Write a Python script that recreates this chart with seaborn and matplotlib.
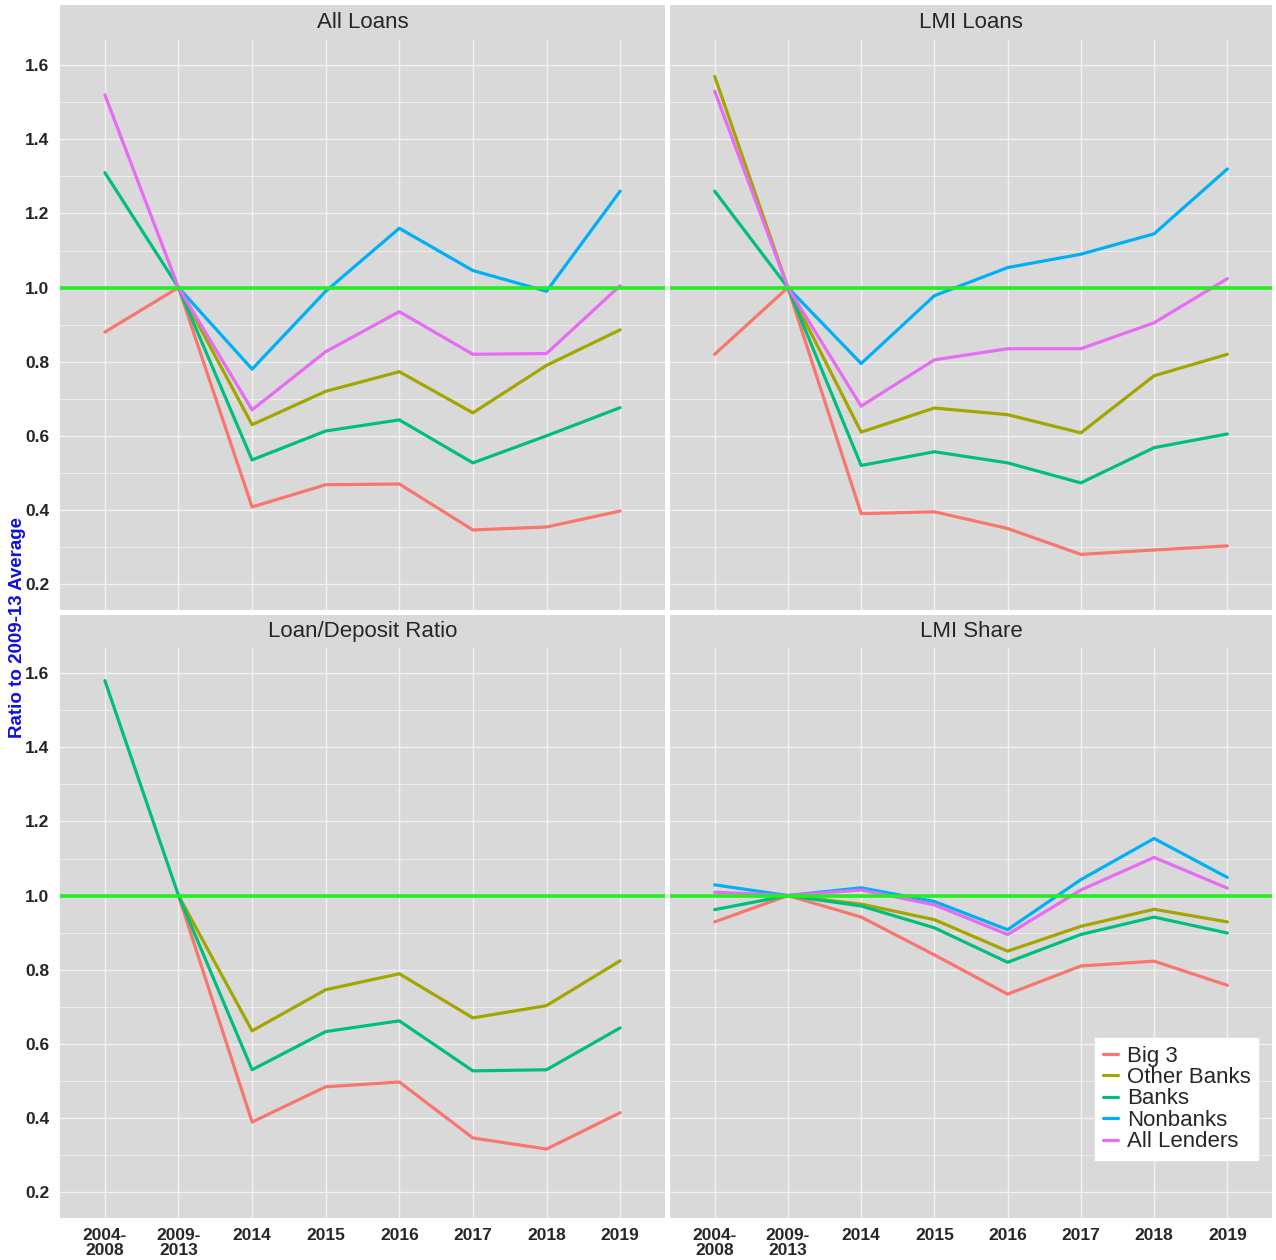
import matplotlib
matplotlib.use("Agg")
import matplotlib.pyplot as plt
from matplotlib.patches import Rectangle
from matplotlib.ticker import MultipleLocator
import seaborn as sns
import pandas as pd
import numpy as np

nan = np.nan

# x categories and series names
periods = ["2004-\n2008", "2009-\n2013", "2014", "2015", "2016", "2017", "2018", "2019"]
lenders = ["Big 3", "Other Banks", "Banks", "Nonbanks", "All Lenders"]
colors = ["#F8766D", "#A3A500", "#00BF7D", "#00B0F6", "#E76BF3"]

# values (ratio to 2009-13 average)
all_loans = {
    "Big 3":       [0.88, 1.0, 0.408, 0.468, 0.470, 0.346, 0.354, 0.397],
    "Other Banks": [nan, 1.0, 0.630, 0.720, 0.773, 0.662, 0.790, 0.886],
    "Banks":       [1.31, 1.0, 0.535, 0.613, 0.643, 0.527, 0.600, 0.676],
    "Nonbanks":    [nan, 1.0, 0.780, 0.990, 1.160, 1.046, 0.990, 1.260],
    "All Lenders": [1.52, 1.0, 0.670, 0.827, 0.935, 0.820, 0.822, 1.005],
}
lmi_loans = {
    "Big 3":       [0.82, 1.0, 0.390, 0.395, 0.350, 0.280, 0.292, 0.303],
    "Other Banks": [1.57, 1.0, 0.610, 0.675, 0.657, 0.608, 0.762, 0.820],
    "Banks":       [1.26, 1.0, 0.520, 0.557, 0.527, 0.473, 0.568, 0.605],
    "Nonbanks":    [nan, 1.0, 0.795, 0.978, 1.054, 1.090, 1.145, 1.320],
    "All Lenders": [1.53, 1.0, 0.680, 0.805, 0.835, 0.835, 0.905, 1.024],
}
loan_deposit = {
    "Big 3":       [nan, 1.0, 0.389, 0.484, 0.497, 0.346, 0.316, 0.414],
    "Other Banks": [nan, 1.0, 0.635, 0.746, 0.789, 0.670, 0.703, 0.824],
    "Banks":       [1.58, 1.0, 0.530, 0.633, 0.662, 0.527, 0.530, 0.643],
}
lmi_share = {
    "Big 3":       [0.929, 1.0, 0.942, 0.840, 0.734, 0.810, 0.823, 0.758],
    "Other Banks": [nan, 1.0, 0.977, 0.935, 0.850, 0.917, 0.963, 0.929],
    "Banks":       [0.962, 1.0, 0.972, 0.913, 0.820, 0.895, 0.942, 0.899],
    "Nonbanks":    [1.029, 1.0, 1.021, 0.984, 0.908, 1.043, 1.154, 1.049],
    "All Lenders": [1.009, 1.0, 1.015, 0.975, 0.895, 1.015, 1.103, 1.020],
}

panels = [
    ("All Loans", all_loans),
    ("LMI Loans", lmi_loans),
    ("Loan/Deposit Ratio", loan_deposit),
    ("LMI Share", lmi_share),
]


def to_long(data):
    rows = []
    for name, vals in data.items():
        for i, v in enumerate(vals):
            rows.append({"pos": i, "value": v, "lender": name})
    df = pd.DataFrame(rows)
    return df.dropna()


sns.set_style("white")
plt.rcParams["font.family"] = ["Liberation Sans", "DejaVu Sans"]

W, H = 1276, 1260
fig = plt.figure(figsize=(W / 100, H / 100), dpi=100)

# panel boxes in pixels: (left, right) columns, (plot top, plot bottom, strip top) rows
cols = [(60, 665), (670, 1272)]
rows_px = [(40, 610, 5), (648, 1218, 615)]
bg = "#D9D9D9"

for k, (title, data) in enumerate(panels):
    r, c = divmod(k, 2)
    x0, x1 = cols[c]
    top, bottom, strip_top = rows_px[r]
    ax = fig.add_axes([x0 / W, 1 - bottom / H, (x1 - x0) / W, (bottom - top) / H])
    ax.set_facecolor(bg)

    # strip with panel title
    fig.add_artist(Rectangle((x0 / W, 1 - top / H), (x1 - x0) / W, (top - strip_top) / H,
                             transform=fig.transFigure, facecolor=bg, edgecolor="none"))
    fig.text((x0 + x1) / 2 / W, 1 - (strip_top + top) / 2 / H, title,
             ha="center", va="center", fontsize=16, color="#262626")

    df = to_long(data)
    order = [l for l in lenders if l in data]
    pal = {l: colors[lenders.index(l)] for l in order}
    sns.lineplot(data=df, x="pos", y="value", hue="lender", hue_order=order,
                 palette=pal, linewidth=2.3, ax=ax, legend=False, estimator=None)
    ax.axhline(1.0, color="#22EE22", linewidth=2.6, zorder=5)

    ax.set_xlim(-0.61, 7.61)
    ax.set_ylim(0.13, 1.668)
    ax.set_xticks(range(len(periods)))
    ax.yaxis.set_major_locator(MultipleLocator(0.2))
    ax.yaxis.set_minor_locator(MultipleLocator(0.1))
    ax.grid(which="major", color="#F2F2F2", linewidth=1.0)
    ax.grid(which="minor", axis="y", color="#F2F2F2", linewidth=0.6)
    ax.set_axisbelow(True)
    for s in ax.spines.values():
        s.set_visible(False)
    ax.set_xlabel("")
    ax.set_ylabel("")
    ax.tick_params(axis="both", which="major", length=4, width=1, color="#444444",
                   labelsize=12.5, labelcolor="#262626")
    ax.tick_params(axis="y", which="minor", length=0)

    if c == 0:
        ax.set_yticklabels([f"{v:.1f}" for v in ax.get_yticks()], fontweight="bold")
    else:
        ax.tick_params(axis="y", labelleft=False)
    if r == 1:
        ax.set_xticklabels(periods, fontweight="bold", linespacing=0.95)
    else:
        ax.tick_params(axis="x", labelbottom=False)

    if k == 3:
        handles = [plt.Line2D([], [], color=colors[i], linewidth=2.3) for i in range(len(lenders))]
        leg = ax.legend(handles, lenders, loc="lower right", bbox_to_anchor=(0.996, 0.082),
                        fontsize=16, handlelength=0.7, handletextpad=0.4,
                        labelspacing=0.02, borderpad=0.35, frameon=True,
                        fancybox=False, framealpha=1)
        leg.get_frame().set_edgecolor("white")
        leg.get_frame().set_facecolor("white")

fig.text(18 / W, 1 - 627 / H, "Ratio to 2009-13 Average", rotation=90,
         ha="center", va="center", fontsize=13.5, fontweight="bold", color="#1010E0")

fig.savefig("out.png", dpi=100, facecolor="white")
